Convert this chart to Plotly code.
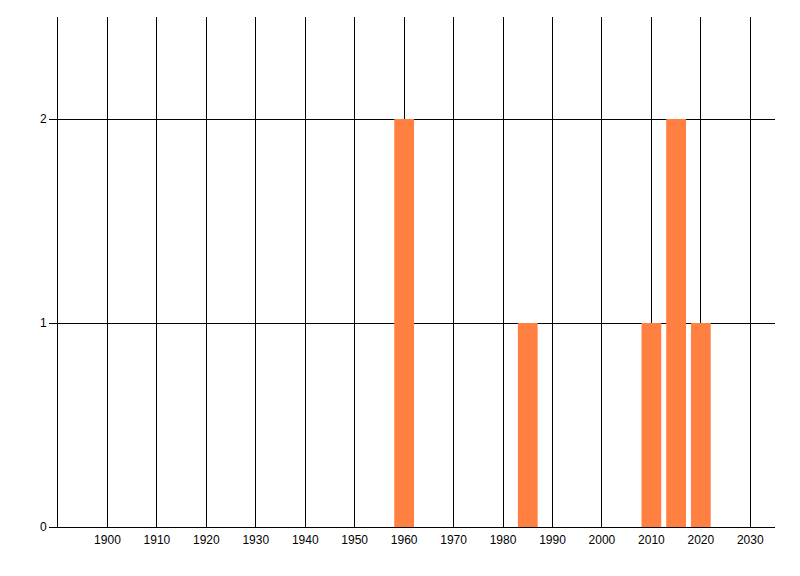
import plotly.graph_objects as go

years = [1960, 1985, 2010, 2015, 2020]
counts = [2, 1, 1, 2, 1]
x_ticks = list(range(1900, 2031, 10))
y_ticks = [0, 1, 2]

fig = go.Figure()
fig.add_trace(go.Bar(
    x=years, y=counts, width=4,
    marker=dict(color="#FF8040", line=dict(width=0)),
))

fig.update_layout(
    width=800, height=576,
    margin=dict(l=50, r=33, t=9, b=57),
    paper_bgcolor="white", plot_bgcolor="white",
    showlegend=False,
    font=dict(family="Liberation Sans, Arial, sans-serif", size=12, color="black"),
)
fig.update_xaxes(
    range=[1890, 2035], tickvals=x_ticks, ticktext=[str(v) for v in x_ticks],
    showgrid=True, gridcolor="black", gridwidth=1,
    showline=True, linecolor="black", linewidth=1,
    ticks="", zeroline=False, layer="below traces",
    ticklabelstandoff=2,
)
fig.update_yaxes(
    range=[0, 2.5], tickvals=y_ticks,
    showgrid=True, gridcolor="black", gridwidth=1,
    showline=True, linecolor="black", linewidth=1,
    ticks="outside", ticklen=8, tickcolor="black", zeroline=False,
    layer="below traces",
)
fig.write_html("out.html")
